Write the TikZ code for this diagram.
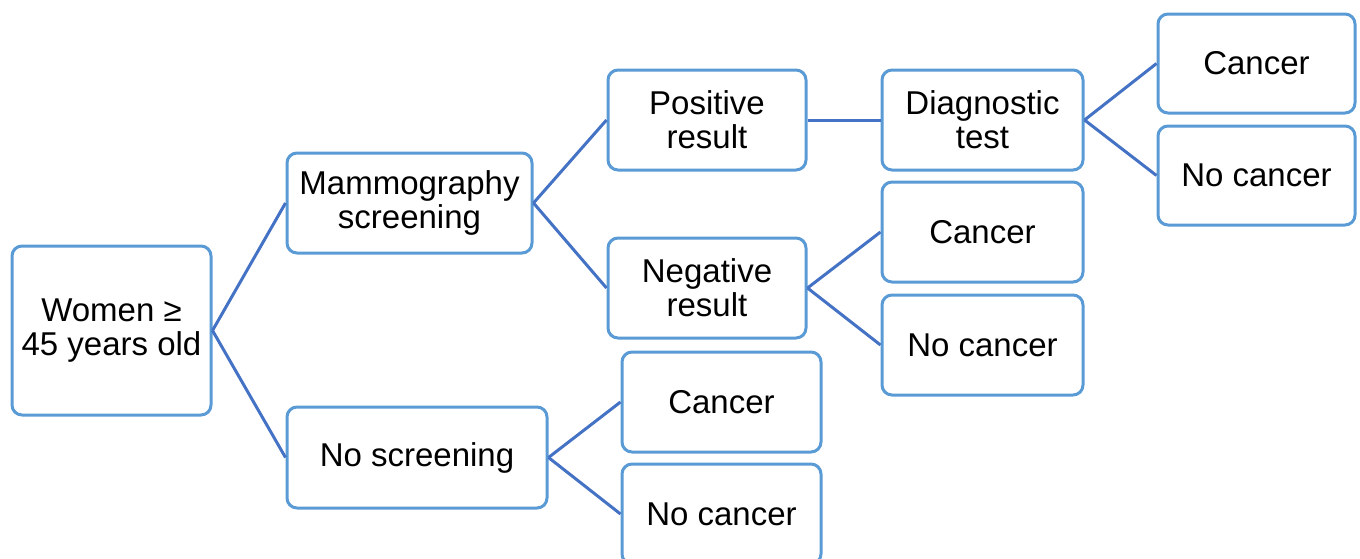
\documentclass[tikz,border=0pt]{standalone}
\usepackage{fontspec}
\setmainfont{Liberation Sans}
\definecolor{boxblue}{RGB}{91,155,213}
\definecolor{linkblue}{RGB}{68,114,196}
\begin{document}
\begin{tikzpicture}[x=1pt,y=-1pt,
  box/.style={draw=boxblue, line width=3pt, rounded corners=10pt, fill=white,
    align=center, inner sep=0pt, minimum height=100pt,
    font=\fontsize{33}{34}\selectfont},
  link/.style={draw=linkblue, line width=3pt}]
\useasboundingbox (0,0) rectangle (1360,558);
\clip (0,0) rectangle (1360,558);
\node[box, minimum width=199pt, minimum height=169pt] (w) at (111.5,330.5) {Women ≥\\45 years old};
\node[box, minimum width=245pt] (ms) at (409.5,203) {Mammography\\screening};
\node[box, minimum width=260pt, minimum height=101pt] (ns) at (417,457.5) {No screening};
\node[box, minimum width=198pt] (pr) at (707,120) {Positive\\result};
\node[box, minimum width=198pt] (nr) at (707,288) {Negative\\result};
\node[box, minimum width=201pt] (dt) at (982.5,120) {Diagnostic\\test};
\node[box, minimum width=197pt, minimum height=99pt] (c1) at (1256.5,63.5) {Cancer};
\node[box, minimum width=197pt, minimum height=99pt] (n1) at (1256.5,175.5) {No cancer};
\node[box, minimum width=201pt] (c2) at (982.5,232) {Cancer};
\node[box, minimum width=201pt] (n2) at (982.5,345) {No cancer};
\node[box, minimum width=199pt] (c3) at (721.5,402) {Cancer};
\node[box, minimum width=199pt] (n3) at (721.5,514) {No cancer};
\draw[link] (w.east) -- (ms.west);
\draw[link] (w.east) -- (ns.west);
\draw[link] (ms.east) -- (pr.west);
\draw[link] (ms.east) -- (nr.west);
\draw[link] (pr.east) -- (dt.west);
\draw[link] (dt.east) -- (c1.west);
\draw[link] (dt.east) -- (n1.west);
\draw[link] (nr.east) -- (c2.west);
\draw[link] (nr.east) -- (n2.west);
\draw[link] (ns.east) -- (c3.west);
\draw[link] (ns.east) -- (n3.west);
\end{tikzpicture}
\end{document}
